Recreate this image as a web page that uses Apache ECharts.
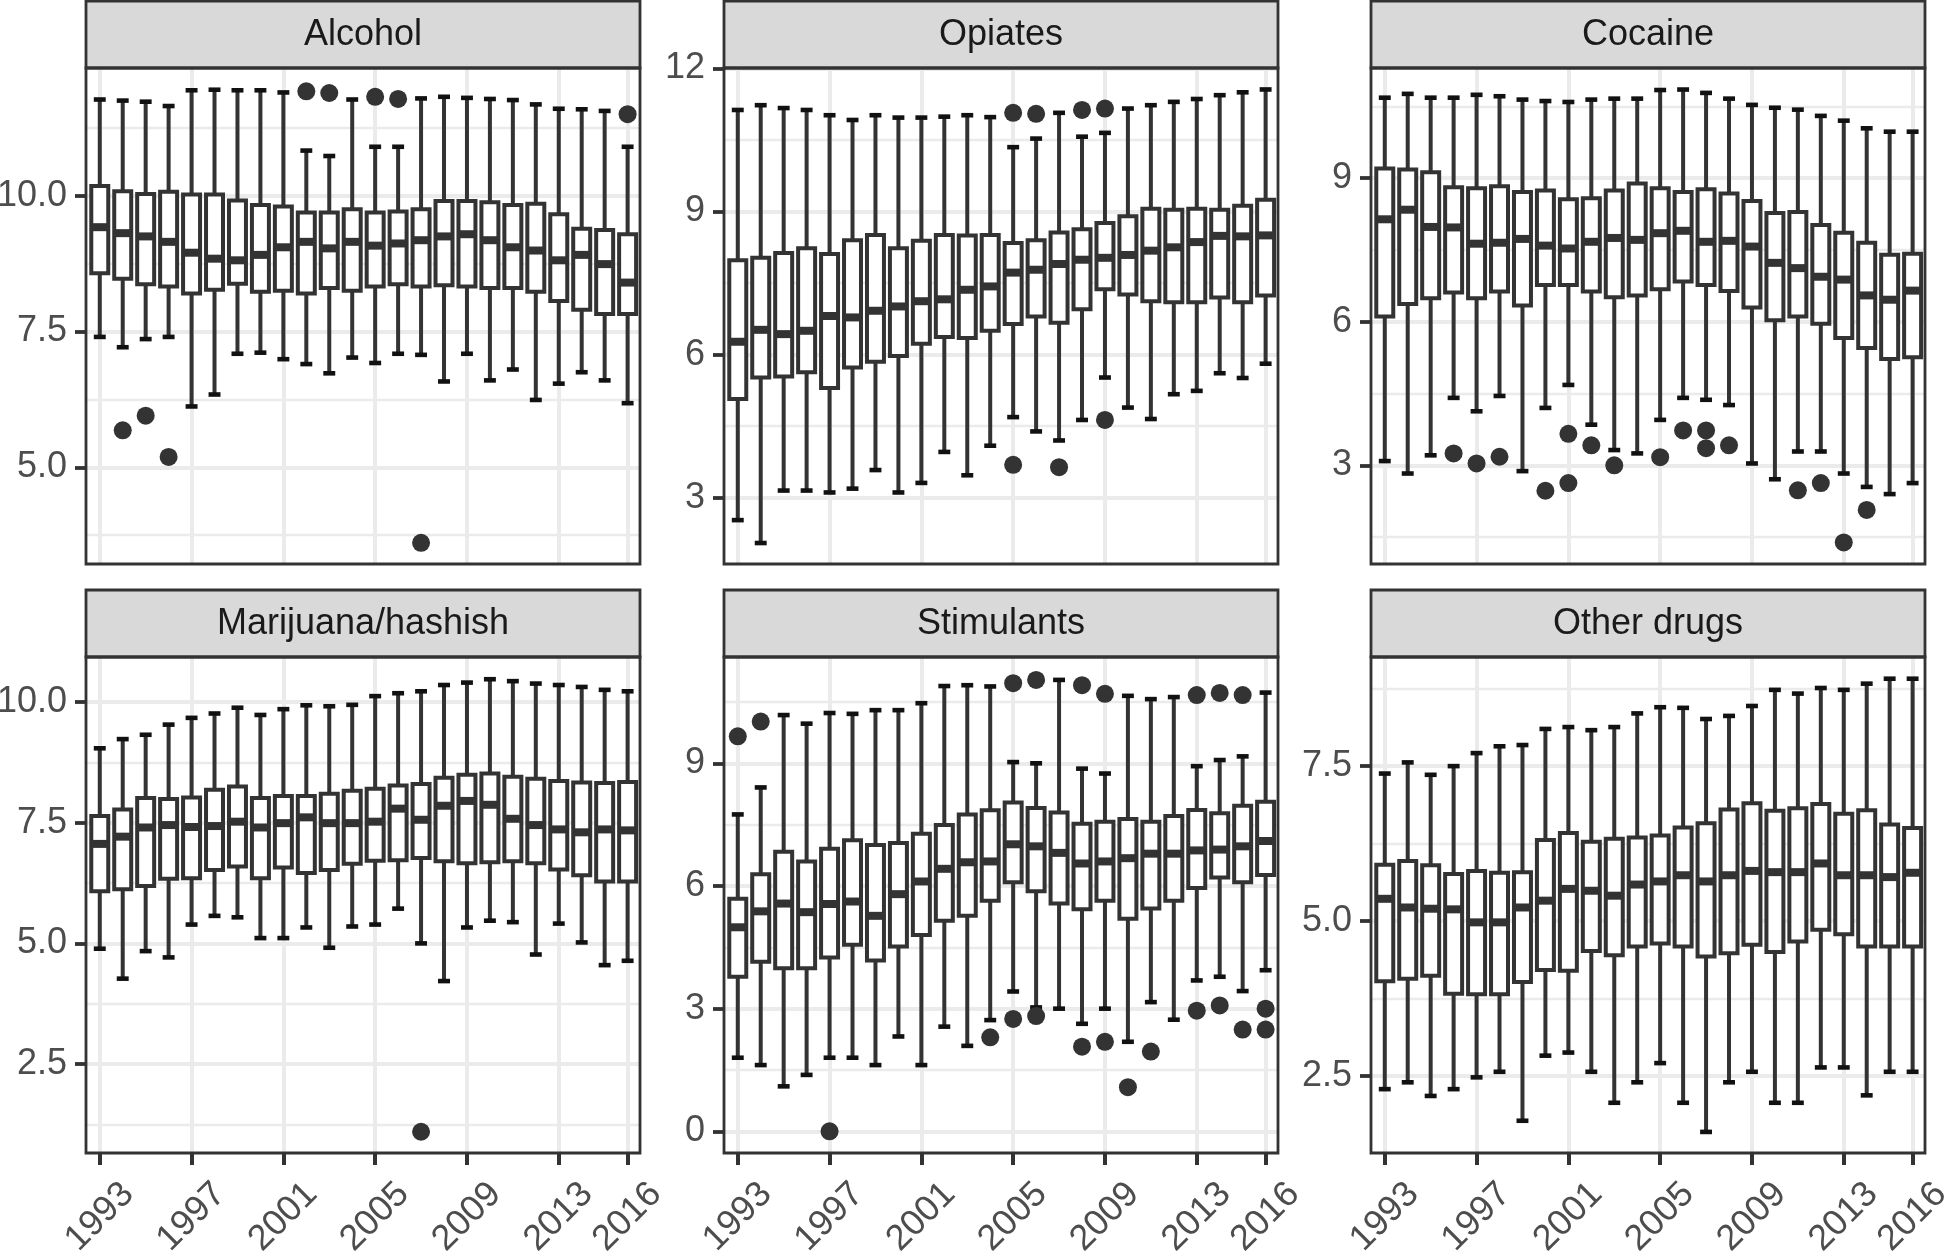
<!DOCTYPE html>
<html>
<head>
<meta charset="utf-8">
<title>Boxplots by drug, 1993-2016</title>
<script src="https://cdn.jsdelivr.net/npm/echarts@6/dist/echarts.min.js"></script>
<style>
  html, body { margin: 0; padding: 0; background: #fff; }
  #chart { width: 1946px; height: 1251px; }
</style>
</head>
<body>
<div id="chart"></div>
<script>
// years on the x axis and the labelled ones
const years = [1993, 1994, 1995, 1996, 1997, 1998, 1999, 2000, 2001, 2002, 2003, 2004,
               2005, 2006, 2007, 2008, 2009, 2010, 2011, 2012, 2013, 2014, 2015, 2016];
const yearTicks = [1993, 1997, 2001, 2005, 2009, 2013, 2016];

const panelNames = ['Alcohol', 'Opiates', 'Cocaine', 'Marijuana/hashish', 'Stimulants', 'Other drugs'];

// one row per year: [lower whisker, Q1, median, Q3, upper whisker]
const alcoholBoxes = [
  [7.40, 8.57, 9.42, 10.18, 11.77], [7.21, 8.47, 9.31, 10.08, 11.75], [7.36, 8.37, 9.25, 10.03, 11.73],
  [7.40, 8.33, 9.15, 10.07, 11.65], [6.12, 8.20, 8.95, 10.02, 11.94], [6.34, 8.27, 8.84, 10.02, 11.95],
  [7.09, 8.38, 8.81, 9.91, 11.94], [7.11, 8.23, 8.91, 9.83, 11.94], [6.99, 8.25, 9.05, 9.80, 11.90],
  [6.90, 8.20, 9.15, 9.69, 10.83], [6.73, 8.30, 9.03, 9.69, 10.73], [7.02, 8.25, 9.15, 9.75, 11.77],
  [6.92, 8.33, 9.08, 9.69, 10.90], [7.09, 8.37, 9.12, 9.71, 10.90], [7.07, 8.33, 9.18, 9.75, 11.79],
  [6.58, 8.35, 9.25, 9.90, 11.82], [7.09, 8.33, 9.29, 9.90, 11.80], [6.60, 8.30, 9.18, 9.88, 11.78],
  [6.80, 8.30, 9.05, 9.83, 11.76], [6.24, 8.23, 8.99, 9.85, 11.68], [6.54, 8.06, 8.81, 9.66, 11.60],
  [6.75, 7.90, 8.91, 9.39, 11.59], [6.60, 7.82, 8.74, 9.37, 11.56], [6.18, 7.82, 8.40, 9.29, 10.90]
];
const alcoholOutliers = [[1994, 5.68], [1995, 5.95], [1996, 5.19], [2002, 11.92], [2003, 11.89],
  [2005, 11.82], [2006, 11.78], [2007, 3.61], [2016, 11.50]];

const opiatesBoxes = [
  [2.53, 5.07, 6.27, 7.98, 11.13], [2.05, 5.52, 6.52, 8.03, 11.23], [3.15, 5.54, 6.43, 8.13, 11.17],
  [3.15, 5.63, 6.50, 8.23, 11.13], [3.11, 5.30, 6.81, 8.11, 11.02], [3.19, 5.73, 6.78, 8.40, 10.92],
  [3.58, 5.85, 6.92, 8.51, 11.02], [3.11, 5.97, 7.01, 8.23, 10.97], [3.31, 6.23, 7.12, 8.39, 10.97],
  [3.96, 6.37, 7.16, 8.51, 10.99], [3.47, 6.35, 7.36, 8.50, 11.02], [4.09, 6.50, 7.43, 8.51, 10.98],
  [4.69, 6.64, 7.72, 8.34, 10.35], [4.39, 6.80, 7.78, 8.40, 10.53], [4.20, 6.67, 7.90, 8.56, 11.07],
  [4.63, 6.95, 7.99, 8.63, 10.57], [5.52, 7.37, 8.03, 8.76, 10.65], [4.89, 7.26, 8.09, 8.90, 11.16],
  [4.65, 7.12, 8.18, 9.06, 11.23], [5.17, 7.10, 8.25, 9.04, 11.30], [5.24, 7.10, 8.36, 9.06, 11.36],
  [5.61, 7.20, 8.49, 9.04, 11.44], [5.51, 7.10, 8.48, 9.12, 11.50], [5.81, 7.24, 8.50, 9.25, 11.56]
];
const opiatesOutliers = [[2005, 11.07], [2005, 3.69], [2006, 11.05], [2007, 3.64], [2008, 11.13],
  [2009, 11.16], [2009, 4.63]];

const cocaineBoxes = [
  [3.09, 6.11, 8.14, 9.20, 10.68], [2.83, 6.37, 8.34, 9.18, 10.76], [3.21, 6.49, 7.98, 9.12, 10.68],
  [4.41, 6.61, 7.97, 8.81, 10.68], [4.13, 6.49, 7.63, 8.79, 10.74], [4.45, 6.63, 7.65, 8.83, 10.71],
  [2.88, 6.34, 7.73, 8.71, 10.64], [4.20, 6.77, 7.59, 8.74, 10.61], [4.68, 6.77, 7.53, 8.56, 10.59],
  [3.85, 6.63, 7.67, 8.58, 10.64], [3.32, 6.51, 7.75, 8.74, 10.66], [3.25, 6.55, 7.71, 8.89, 10.66],
  [3.95, 6.68, 7.85, 8.79, 10.84], [4.41, 6.84, 7.90, 8.71, 10.85], [4.37, 6.77, 7.67, 8.77, 10.78],
  [4.26, 6.64, 7.69, 8.68, 10.66], [3.04, 6.30, 7.57, 8.52, 10.53], [2.71, 6.03, 7.23, 8.27, 10.47],
  [3.29, 6.11, 7.12, 8.29, 10.43], [3.29, 5.96, 6.94, 8.02, 10.30], [2.83, 5.66, 6.88, 7.86, 10.20],
  [2.55, 5.45, 6.55, 7.65, 10.04], [2.40, 5.22, 6.46, 7.40, 9.97], [2.63, 5.26, 6.65, 7.42, 9.97]
];
const cocaineOutliers = [[1996, 3.25], [1997, 3.04], [1998, 3.18], [2000, 2.47], [2001, 3.66], [2001, 2.63],
  [2002, 3.42], [2003, 3.00], [2005, 3.17], [2006, 3.73], [2007, 3.73], [2007, 3.36], [2008, 3.42],
  [2011, 2.48], [2012, 2.63], [2013, 1.39], [2014, 2.07]];

const marijuanaBoxes = [
  [4.89, 6.08, 7.06, 7.64, 9.04], [4.27, 6.12, 7.21, 7.77, 9.23], [4.84, 6.19, 7.40, 8.01, 9.32],
  [4.71, 6.34, 7.45, 7.99, 9.53], [5.39, 6.35, 7.41, 8.02, 9.67], [5.57, 6.52, 7.43, 8.18, 9.76],
  [5.54, 6.59, 7.52, 8.25, 9.88], [5.11, 6.35, 7.40, 8.01, 9.73], [5.11, 6.57, 7.49, 8.05, 9.85],
  [5.33, 6.46, 7.61, 8.05, 9.93], [4.91, 6.52, 7.49, 8.10, 9.91], [5.35, 6.65, 7.49, 8.16, 9.94],
  [5.39, 6.71, 7.52, 8.20, 10.12], [5.72, 6.72, 7.79, 8.27, 10.18], [5.00, 6.77, 7.56, 8.30, 10.22],
  [4.22, 6.70, 7.85, 8.43, 10.35], [5.33, 6.66, 7.95, 8.49, 10.40], [5.47, 6.68, 7.87, 8.52, 10.47],
  [5.44, 6.70, 7.58, 8.45, 10.43], [4.77, 6.66, 7.45, 8.41, 10.38], [5.41, 6.53, 7.36, 8.36, 10.35],
  [5.02, 6.41, 7.30, 8.33, 10.31], [4.55, 6.28, 7.36, 8.32, 10.25], [4.64, 6.28, 7.34, 8.34, 10.22]
];
const marijuanaOutliers = [[2007, 1.10]];

const stimulantsBoxes = [
  [1.80, 3.78, 4.99, 5.69, 7.75], [1.62, 4.15, 5.38, 6.29, 8.41], [1.10, 3.99, 5.57, 6.84, 10.18],
  [1.38, 3.99, 5.36, 6.60, 9.97], [1.80, 4.25, 5.56, 6.91, 10.23], [1.80, 4.56, 5.62, 7.12, 10.21],
  [1.62, 4.18, 5.27, 7.00, 10.30], [2.32, 4.52, 5.80, 7.05, 10.30], [1.62, 4.80, 6.11, 7.28, 10.47],
  [2.56, 5.15, 6.42, 7.49, 10.89], [2.09, 5.27, 6.58, 7.75, 10.91], [2.72, 5.64, 6.60, 7.85, 10.88],
  [3.42, 6.09, 7.02, 8.04, 9.03], [3.03, 5.87, 6.97, 7.91, 9.00], [3.00, 5.57, 6.81, 7.80, 11.04],
  [2.63, 5.43, 6.55, 7.52, 8.87], [3.00, 5.64, 6.60, 7.57, 8.75], [2.19, 5.20, 6.68, 7.64, 10.65],
  [3.16, 5.45, 6.79, 7.57, 10.57], [2.73, 5.64, 6.79, 7.71, 10.62], [3.69, 5.95, 6.87, 7.86, 8.93],
  [3.78, 6.21, 6.89, 7.78, 9.08], [3.43, 6.09, 6.97, 7.96, 9.17], [3.94, 6.27, 7.10, 8.06, 10.73]
];
const stimulantsOutliers = [[1993, 9.66], [1994, 10.02], [1997, 0.0], [2004, 2.30], [2005, 10.96],
  [2005, 2.75], [2006, 11.04], [2006, 2.82], [2008, 10.91], [2008, 2.07], [2009, 10.70], [2009, 2.19],
  [2010, 1.08], [2011, 1.95], [2013, 10.67], [2013, 2.95], [2014, 10.72], [2014, 3.08], [2015, 10.67],
  [2015, 2.49], [2016, 3.00], [2016, 2.49]];

const otherBoxes = [
  [2.29, 4.03, 5.36, 5.91, 7.38], [2.40, 4.07, 5.22, 5.97, 7.56], [2.18, 4.12, 5.20, 5.90, 7.36],
  [2.29, 3.83, 5.19, 5.76, 7.50], [2.48, 3.82, 4.98, 5.81, 7.71], [2.57, 3.82, 4.98, 5.78, 7.82],
  [1.78, 4.02, 5.22, 5.79, 7.84], [2.83, 4.21, 5.33, 6.31, 8.10], [2.88, 4.20, 5.52, 6.42, 8.13],
  [2.57, 4.52, 5.49, 6.28, 8.08], [2.07, 4.45, 5.41, 6.33, 8.13], [2.40, 4.59, 5.59, 6.35, 8.35],
  [2.71, 4.64, 5.64, 6.38, 8.45], [2.07, 4.59, 5.74, 6.51, 8.44], [1.60, 4.43, 5.64, 6.58, 8.26],
  [2.40, 4.48, 5.74, 6.80, 8.31], [2.57, 4.62, 5.81, 6.90, 8.47], [2.07, 4.50, 5.79, 6.78, 8.73],
  [2.07, 4.67, 5.79, 6.82, 8.67], [2.64, 4.86, 5.93, 6.89, 8.76], [2.64, 4.79, 5.74, 6.73, 8.73],
  [2.19, 4.59, 5.74, 6.79, 8.83], [2.57, 4.59, 5.71, 6.56, 8.91], [2.57, 4.59, 5.78, 6.50, 8.91]
];
const otherOutliers = [];

// y axes: range, labelled ticks, minor grid lines
const yRanges = [[3.22, 12.35], [1.61, 12.01], [0.94, 11.30], [0.66, 10.93], [-0.53, 11.60], [1.26, 9.26]];
const yTicks = [[5, 7.5, 10], [3, 6, 9, 12], [3, 6, 9], [2.5, 5, 7.5, 10], [0, 3, 6, 9], [2.5, 5, 7.5]];
const yMinor = [[3.75, 6.25, 8.75, 11.25], [4.5, 7.5, 10.5], [1.5, 4.5, 7.5, 10.5],
                [1.25, 3.75, 6.25, 8.75], [1.5, 4.5, 7.5, 10.5], [3.75, 6.25, 8.75]];
const yDecimals = [1, 0, 0, 1, 0, 1];

const allBoxes = [alcoholBoxes, opiatesBoxes, cocaineBoxes, marijuanaBoxes, stimulantsBoxes, otherBoxes];
const allOutliers = [alcoholOutliers, opiatesOutliers, cocaineOutliers, marijuanaOutliers, stimulantsOutliers, otherOutliers];

// layout
const FONT = '"Liberation Sans", Arial, Helvetica, sans-serif';
const FS = 36;
const colLeft = [86, 724, 1371];
const panelW = 554;
const rowTop = [68, 657];
const panelH = 496;
const stripH = 67;
const INK = '#333333';
const GRID = '#ebebeb';

const myChart = echarts.init(document.getElementById('chart'), null, { renderer: 'canvas' });

function renderBox(params, api) {
  const yr = api.value(0);
  const lo = api.coord([yr, api.value(1)]);
  const q1 = api.coord([yr, api.value(2)]);
  const md = api.coord([yr, api.value(3)]);
  const q3 = api.coord([yr, api.value(4)]);
  const hi = api.coord([yr, api.value(5)]);
  const bw = api.size([0.74, 0])[0];
  const cw = api.size([0.52, 0])[0];
  const x = md[0];
  const whisker = { stroke: INK, lineWidth: 4 };
  const cap = { stroke: '#111', lineWidth: 4.6 };
  return {
    type: 'group',
    children: [
      { type: 'line', shape: { x1: x, y1: hi[1], x2: x, y2: lo[1] }, style: whisker },
      { type: 'line', shape: { x1: x - cw / 2, y1: hi[1], x2: x + cw / 2, y2: hi[1] }, style: cap },
      { type: 'line', shape: { x1: x - cw / 2, y1: lo[1], x2: x + cw / 2, y2: lo[1] }, style: cap },
      { type: 'rect', shape: { x: x - bw / 2, y: q3[1], width: bw, height: q1[1] - q3[1] },
        style: { fill: '#fff', stroke: INK, lineWidth: 4 } },
      { type: 'line', shape: { x1: x - bw / 2, y1: md[1], x2: x + bw / 2, y2: md[1] },
        style: { stroke: INK, lineWidth: 8 } }
    ]
  };
}

const grids = [], xAxes = [], yAxes = [], series = [], graphics = [];

for (let i = 0; i < 6; i++) {
  const col = i % 3, row = Math.floor(i / 3);
  const left = colLeft[col], top = rowTop[row];
  const bottomRow = row === 1;
  // outerBoundsMode none: keep the panel size fixed even where labels run off the page
  grids.push({ left: left, top: top, width: panelW, height: panelH, show: true,
    outerBoundsMode: 'none', containLabel: false,
    backgroundColor: '#fff', borderWidth: 0 });

  xAxes.push({
    type: 'value', gridIndex: i, min: 1992.4, max: 2016.54,
    axisLine: { show: false, onZero: false },
    axisTick: { show: bottomRow, customValues: yearTicks, length: 12, lineStyle: { color: INK, width: 4 } },
    axisLabel: { show: bottomRow, customValues: yearTicks, rotate: 45, align: 'center', verticalAlign: 'middle',
      margin: 64, fontSize: FS, color: '#4d4d4d', fontFamily: FONT, formatter: v => String(v) },
    splitLine: { show: true, lineStyle: { color: GRID, width: 4 } }
  });

  yAxes.push({
    type: 'value', gridIndex: i, min: yRanges[i][0], max: yRanges[i][1],
    axisLine: { show: false, onZero: false },
    axisTick: { show: true, customValues: yTicks[i], length: 11, lineStyle: { color: INK, width: 3.8 } },
    axisLabel: { customValues: yTicks[i], margin: 19, fontSize: FS, color: '#4d4d4d', fontFamily: FONT,
      formatter: v => v.toFixed(yDecimals[i]) },
    splitLine: { show: true, lineStyle: { color: GRID, width: 4 } }
  });

  series.push({
    type: 'custom', xAxisIndex: i, yAxisIndex: i, renderItem: renderBox, z: 3,
    encode: { x: 0, y: [1, 2, 3, 4, 5] },
    data: years.map((yr, k) => [yr].concat(allBoxes[i][k]))
  });
  series.push({
    type: 'scatter', xAxisIndex: i, yAxisIndex: i, symbolSize: 18, z: 4,
    itemStyle: { color: INK, opacity: 1 },
    data: allOutliers[i]
  });

  // strip on top of each panel
  const stripTop = top - stripH;
  graphics.push({
    type: 'rect', z: 10,
    shape: { x: left, y: stripTop, width: panelW, height: stripH },
    style: { fill: '#d9d9d9', stroke: INK, lineWidth: 2.8 }
  });
  graphics.push({
    type: 'text', z: 11, x: left + panelW / 2, y: stripTop + stripH / 2 + 1,
    style: { text: panelNames[i], fontSize: FS, fontFamily: FONT, fill: '#1a1a1a',
      align: 'center', verticalAlign: 'middle' }
  });
  // panel border
  graphics.push({
    type: 'rect', z: 10,
    shape: { x: left, y: top, width: panelW, height: panelH },
    style: { fill: 'none', stroke: INK, lineWidth: 2.8 }
  });
}

// thinner minor grid lines, drawn by a second y axis in each panel
for (let i = 0; i < 6; i++) {
  yAxes.push({
    type: 'value', gridIndex: i, min: yRanges[i][0], max: yRanges[i][1], position: 'left',
    axisLine: { show: false, onZero: false },
    axisTick: { show: false, customValues: yMinor[i] },
    axisLabel: { show: false, customValues: yMinor[i] },
    splitLine: { show: true, lineStyle: { color: GRID, width: 2.4 } }
  });
}

myChart.setOption({
  animation: false,
  backgroundColor: '#fff',
  grid: grids,
  xAxis: xAxes,
  yAxis: yAxes,
  series: series,
  graphic: graphics
});
</script>
</body>
</html>
